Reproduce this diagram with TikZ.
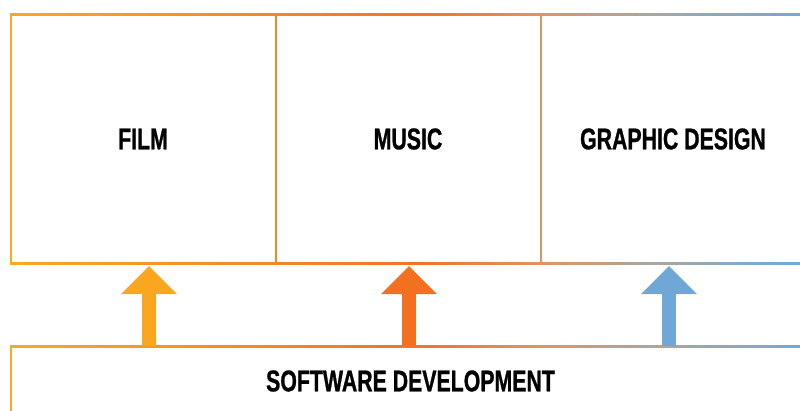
\documentclass[tikz,border=0pt]{standalone}
\usepackage{fontspec}
\newfontfamily\labelfont[FakeStretch=0.71,FakeBold=0.8]{Liberation Sans}
\usetikzlibrary{arrows.meta}

\definecolor{fadeA}{HTML}{F9A825}
\definecolor{fadeB}{HTML}{F27329}
\definecolor{fadeC}{HTML}{DD9466}
\definecolor{fadeD}{HTML}{A8A7A2}
\definecolor{fadeE}{HTML}{6FA8DC}
\colorlet{dividerA}{fadeB!65!fadeA}
\colorlet{dividerB}{fadeC}
\definecolor{arrowfilm}{HTML}{FAA61F}
\definecolor{arrowmusic}{HTML}{F37021}
\definecolor{arrowdesign}{HTML}{6FA8D6}

\begin{document}
\begin{tikzpicture}
        [x=1pt,y=-1pt,
        labeldecorate/.style={font=\labelfont\bfseries\fontsize{30}{32}\selectfont,inner sep=0pt},%
        edgedecorate/.style={line width=2pt},%
        arrowdecorate/.style={-{Triangle[width=54pt,length=28pt]},line width=13.4pt}]
        \useasboundingbox (0,0) rectangle (800,410);
        \clip (0,0) rectangle (800,410);
        %% labels
        \foreach \nodename/\x/\y/\text in {film/143/139/FILM,
          music/408/139/MUSIC, design/673/139/GRAPHIC DESIGN,
          software/410.5/381/SOFTWARE DEVELOPMENT}
        {
          \node (\nodename) at (\x,\y) [labeldecorate] {\text};
        }
        %% box edges
        \foreach \y in {14,263,346}
        {
          \foreach \xa/\xb/\ca/\cb in {10/420/fadeA/fadeB, 420/545/fadeB/fadeC,
            545/650/fadeC/fadeD, 650/810/fadeD/fadeE}
          {
            \shade[left color=\ca,right color=\cb] (\xa,\y-1) rectangle (\xb,\y+1);
          }
        }
        \foreach \x/\ya/\yb/\col in {11/13/264/fadeA, 275.7/14/264/dividerA,
          540.7/14/264/dividerB, 11/345/420/fadeA}
        {
          \draw[edgedecorate,\col] (\x,\ya) -- (\x,\yb);
        }
        %% arrows
        \foreach \nodename/\x/\col in {film/149/arrowfilm,
          music/409/arrowmusic, design/669/arrowdesign}
        {
          \coordinate (\nodename base) at (\x,346);
          \coordinate (\nodename tip) at (\x,266);
          \draw[arrowdecorate,\col] (\nodename base) -- (\nodename tip);
        }
      \end{tikzpicture}
\end{document}
